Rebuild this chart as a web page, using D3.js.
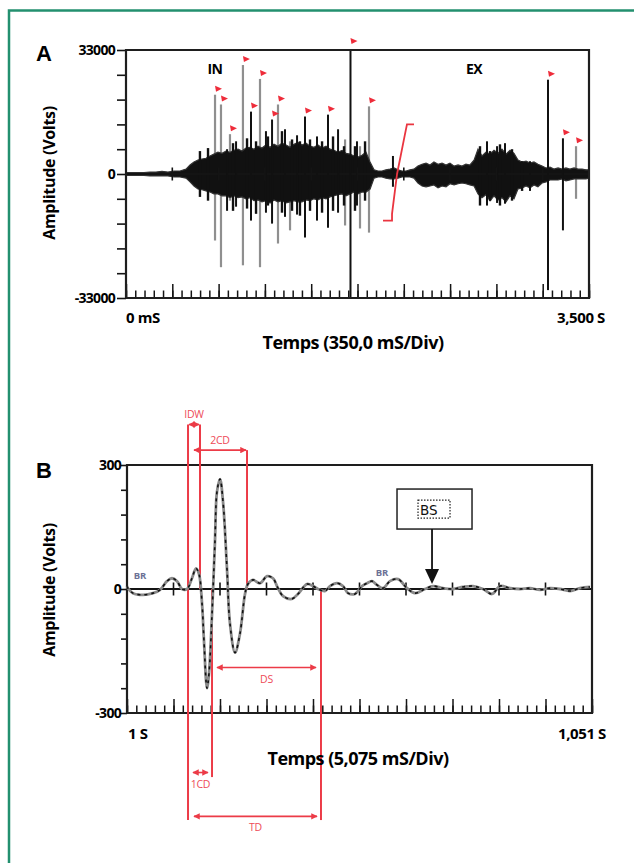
<!DOCTYPE html>
<html><head><meta charset="utf-8">
<script src="https://cdn.jsdelivr.net/npm/d3@7"></script>
<style>body{margin:0;background:#fff}svg{display:block}</style>
</head><body><svg id="c" width="634" height="863"></svg>
<script>
// ---------------- Panel A data (ms, volts) ----------------
const envTime = [0,45,91,136,181,227,272,317,363,408,454,484,514,544,575,605,635,665,695,726,756,786,816,847,877,907,937,968,998,1028,1058,1089,1119,1149,1179,1210,1240,1270,1300,1330,1361,1391,1421,1451,1482,1512,1542,1572,1603,1633,1663,1693,1724,1754,1784,1814,1845,1875,1905,1935,1965,1996,2026,2056,2086,2117,2147,2177,2207,2238,2268,2298,2328,2359,2389,2419,2449,2480,2510,2540,2570,2600,2631,2661,2691,2721,2752,2782,2812,2842,2873,2903,2933,2963,2994,3024,3054,3084,3114,3145,3175,3205,3235,3266,3296,3326,3356,3387,3417,3447,3477,3500];
const envUpper = [400,400,400,400,500,500,700,500,800,800,1300,2400,3200,3700,4000,4200,4800,5300,5800,5500,6100,5800,6300,6600,6100,6900,7100,6600,7400,6900,7700,7100,7900,7400,8200,7700,7100,7900,8400,7700,8200,7400,7100,7700,6900,7400,6600,6300,5800,6300,5500,5300,4800,4500,5000,5800,3200,1100,800,800,1100,1300,1600,1100,800,800,1100,1300,2100,2600,2900,2400,3200,2600,2900,2400,2900,2100,2400,2100,2600,2400,3700,6600,4800,5800,5300,6300,5500,6600,5300,6300,5500,3700,3200,3400,2900,3200,2600,2100,1600,1800,1300,1600,1300,1600,1300,1600,1300,1300,1100,1100];
const envLower = [-400,-400,-400,-400,-500,-500,-500,-500,-800,-800,-1100,-2100,-3200,-4000,-4200,-4500,-4800,-5300,-5300,-5800,-5800,-6300,-5800,-6300,-6100,-6600,-6300,-7100,-6900,-7400,-7100,-7700,-6900,-7400,-7100,-7700,-7400,-7100,-7400,-7400,-6900,-7100,-6600,-6900,-6300,-6600,-6100,-5800,-5500,-5300,-5800,-5300,-4800,-5300,-4800,-4800,-4000,-1100,-800,-800,-1100,-1300,-1300,-1100,-800,-800,-800,-1100,-2400,-3200,-3400,-3200,-2900,-3700,-3200,-3400,-2600,-2900,-2600,-2400,-2600,-2900,-3200,-5300,-6300,-5500,-7100,-5800,-6900,-6300,-7400,-5800,-6600,-4000,-3700,-3200,-3700,-2900,-3400,-2400,-2100,-1600,-1600,-1600,-1300,-1800,-1600,-1300,-1300,-1300,-1300,-1100];

// large discharges: time (ms), max, min (volts), trace (1 = grey trace, 2 = black trace), flagged peak
const spikeTime  = [673,718,764,786,884,945,1013,1104,1149,1240,1353,1444,1527,1697,1769,1837,3190,3303,3402, 832,1058,1202,1293,1603,1656,1746,2018,2729,2805,2865,3054];
const spikeMax   = [21100,18500,6600,10600,29000,16600,25300,14500,18500,8700,15300,10000,15800,33000,7400,18000,25100,9500,7400, 8700,11400,11900,10300,11900,9200,8700,4800,8700,7400,8200,3400];
const spikeMin   = [-17700,-24800,-9800,-7100,-24300,-12400,-24800,-13200,-18500,-15000,-16900,-12400,-14300,-33000,-14500,-15600,-30900,-15000,-6600, -8700,-10300,-11400,-10800,-10300,-13700,-8400,-3400,-8400,-7700,-7900,-4500];
const spikeTrace = [1,1,2,1,1,2,1,2,1,1,2,2,2,2,1,1,2,2,1, 2,2,2,2,2,1,2,2,2,2,2,2];
const spikeFlag  = [1,1,0,1,1,1,1,1,1,0,1,0,1,1,0,1,1,1,1, 0,0,0,0,0,0,0,0,0,0,0,0];
// smaller bursts poking out of the envelope (ms, max, min volts)
const burstTime = [559,620,809,915,983,1073,1179,1255,1315,1391,1482,1565,1648,1731,1807,2676,2752,2827,2918,2994];
const burstMax  = [6100,6900,8200,9500,8700,10000,11400,9200,8700,9200,8700,10000,7400,7400,8700,7400,6100,7900,6600,3400];
const burstMin  = [-6100,-7100,-9800,-9200,-10600,-8400,-10300,-9800,-11100,-9800,-10300,-9800,-8400,-9800,-7100,-8400,-7100,-8400,-7100,-4500];
// red integration bracket (ms, volts)
const bracketT = [2177,2124,2109,2049,2011,2011,1943];
const bracketV = [13200,13200,10600,0,-10600,-12400,-12400];
const yTicksA = [-33000,-26400,-19800,-13200,-6600,0,6600,13200,19800,26400,33000];
const yLabelsA = {"33000":"33000","0":"0","-33000":"-33000"};

// ---------------- Panel B data (ms, volts) ----------------
const wTime = [1000.0,1000.1,1000.65,1001.75,1002.84,1003.6,1004.37,1004.91,1005.46,1006.0,1006.55,1007.09,1007.53,1007.86,1008.19,1008.4,1008.73,1008.95,1009.28,1009.6,1009.82,1010.15,1010.48,1010.91,1011.24,1011.79,1012.33,1012.88,1013.2,1013.75,1014.52,1015.28,1015.93,1016.48,1017.03,1018.0,1018.66,1019.65,1020.3,1020.85,1021.6,1022.16,1022.92,1023.57,1024.12,1024.88,1025.65,1026.19,1026.74,1027.28,1027.94,1028.7,1029.58,1030.56,1031.43,1032.52,1033.4,1034.49,1035.58,1036.67,1037.76,1038.85,1039.84,1040.71,1041.8,1042.89,1043.98,1045.08,1046.17,1047.26,1048.35,1049.44,1050.53];
const wVolt = [7,2,-10,-14,-10,-2,19,26,19,0,0,26,50,36,-36,-125,-240,-204,-60,115,235,266,211,50,-84,-154,-108,-12,12,22,14,31,26,2,-17,-24,-12,12,7,0,-5,7,14,7,-10,-12,7,14,19,10,2,19,24,2,-10,0,7,2,0,5,7,0,-12,7,2,0,2,-2,2,0,-5,2,5];
const yTicksB = [-300,-240,-180,-120,-60,0,60,120,180,240,300];
const yLabelsB = {"300":"300","0":"0","-300":"-300"};
// annotation marker lines and spans (ms, volts)
const markT  = [1006.66,1007.97,1009.28,1013.1,1021.17];
const markV0 = [398,398,0,336,0];
const markV1 = [-559,0,-455,0,-559];
const spanLabel = ["IDW","2CD","DS","1CD","TD"];
const spanT0 = [1006.66,1007.2,1009.71,1007.09,1007.2];
const spanT1 = [1007.97,1013.1,1020.74,1008.95,1020.85];
const spanV  = [398,336,-190,-444,-550];
const spanAbove = [1,1,0,0,0];
const brLabelT = [1001.42,1027.83], brLabelV = [24,31];
const bsT = 1033.29, bsV = 12;

// ---------------- drawing ----------------
const svg = d3.select("#c");
svg.append("rect").attr("width",634).attr("height",863).attr("fill","#fff");
// green frame
svg.append("path").attr("d","M9,863 V10.5 H634").attr("fill","none").attr("stroke","#23906f").attr("stroke-width",2.5);

const FONT = "'Open Sans', 'DejaVu Sans', sans-serif";
const INK = "#141414";

function frame(g, x, y, yTicks, yLabels, tickLen, labelX, divMs){
  const [x0,x1] = x.range(), [yb,yt] = y.range();
  const y0 = y(0);
  const ax = d3.axisLeft(y).tickValues(yTicks).tickSize(tickLen).tickFormat(d => yLabels[String(d)] || "");
  const ga = g.append("g").attr("transform",`translate(${x0},0)`).call(ax);
  ga.select(".domain").remove();
  ga.selectAll(".tick line").attr("stroke",INK).attr("stroke-width",1.6);
  ga.selectAll(".tick text").attr("x",labelX - x0).attr("font-family",FONT).attr("font-weight","bold")
    .attr("font-size",14).attr("letter-spacing","-0.7").attr("fill","#000");
  const d0 = x.domain()[0];
  const minor = d3.range(0, 51).map(i => d0 + i*divMs/5);
  const major = d3.range(0, 11).map(i => d0 + i*divMs);
  const gm = g.append("g").attr("transform",`translate(0,${yb})`).call(d3.axisBottom(x).tickValues(minor).tickSize(-7.5).tickFormat(""));
  gm.select(".domain").remove();
  gm.selectAll(".tick line").attr("stroke",INK).attr("stroke-width",1.5);
  const gM = g.append("g").attr("transform",`translate(0,${yb})`).call(d3.axisBottom(x).tickValues(major).tickSize(-14).tickFormat(""));
  gM.select(".domain").remove();
  gM.selectAll(".tick line").attr("stroke",INK).attr("stroke-width",1.5);
  g.selectAll(null).data(major.slice(1,10)).join("line")
    .attr("x1",d=>x(d)).attr("x2",d=>x(d)).attr("y1",y0-6.5).attr("y2",y0+6.5)
    .attr("stroke",INK).attr("stroke-width",1.6);
  g.append("path").attr("d",`M${x0},${yb} V${yt} H${x1} V${yb} H${x0}`)
    .attr("fill","none").attr("stroke","#1e1e1e").attr("stroke-width",2.2);
}
function labelsText(g, txt, x, y, opts={}){
  return g.append("text").attr("x",x).attr("y",y).text(txt)
    .attr("font-family",opts.family||FONT).attr("font-weight",opts.weight||"bold")
    .attr("font-size",opts.size||14).attr("text-anchor",opts.anchor||"start")
    .attr("letter-spacing",opts.ls!=null?opts.ls:"-0.6").attr("fill",opts.fill||"#000");
}

// ===== Panel A =====
const xA = d3.scaleLinear().domain([0,3500]).range([126,589]);
const yA = d3.scaleLinear().domain([-33000,33000]).range([298,50]);
const gA = svg.append("g");
const env = envTime.map((t,i)=>({t, hi:envUpper[i], lo:envLower[i]}));
const spikes = spikeTime.map((t,i)=>({t, hi:spikeMax[i], lo:spikeMin[i], tr:spikeTrace[i], fl:spikeFlag[i]}));
const bursts = burstTime.map((t,i)=>({t, hi:burstMax[i], lo:burstMin[i]}));

gA.selectAll(".sg").data(spikes.filter(d=>d.tr===1)).join("line")
  .attr("x1",d=>xA(d.t)).attr("x2",d=>xA(d.t)).attr("y1",d=>yA(d.hi)).attr("y2",d=>yA(d.lo))
  .attr("stroke","#8f8f8f").attr("stroke-width",2.2);
const area = d3.area().x(d=>xA(d.t)).y0(d=>yA(d.lo)).y1(d=>yA(d.hi)).curve(d3.curveLinear);
gA.append("path").datum(env).attr("d",area).attr("fill","#111").attr("stroke","#333").attr("stroke-width",1.2);
gA.selectAll(".bu").data(bursts).join("line")
  .attr("x1",d=>xA(d.t)).attr("x2",d=>xA(d.t)).attr("y1",d=>yA(d.hi)).attr("y2",d=>yA(d.lo))
  .attr("stroke","#111").attr("stroke-width",2.4);
gA.append("line").attr("x1",xA(0)).attr("x2",xA(3500)).attr("y1",yA(0)).attr("y2",yA(0)).attr("stroke",INK).attr("stroke-width",2);
gA.selectAll(".sb").data(spikes.filter(d=>d.tr===2)).join("line")
  .attr("x1",d=>xA(d.t)).attr("x2",d=>xA(d.t)).attr("y1",d=>yA(d.hi)).attr("y2",d=>yA(d.lo))
  .attr("stroke","#111").attr("stroke-width",2);
frame(gA, xA, yA, yTicksA, yLabelsA, 9, 115, 350);
gA.selectAll(".fl").data(spikes.filter(d=>d.fl)).join("path")
  .attr("d",d=>{const x=xA(d.t), y=yA(d.hi) - (d.hi>=33000?3:0); return `M${x},${y-9} L${x+7},${y-6} L${x+1},${y-3} Z`;})
  .attr("fill","#ee2c3a");
gA.append("path").datum(bracketT.map((t,i)=>[xA(t),yA(bracketV[i])]))
  .attr("d",d3.line()).attr("fill","none").attr("stroke","#ea3540").attr("stroke-width",1.8);
labelsText(gA,"IN",215,74,{anchor:"middle",size:14,ls:"-0.5"});
labelsText(gA,"EX",474,74,{anchor:"middle",size:14,ls:"-0.5"});
labelsText(gA,"0 mS",126,323,{size:15,ls:"-0.4"});
labelsText(gA,"3,500 S",557,323,{size:15,ls:"-0.4"});
labelsText(gA,"Temps (350,0 mS/Div)",353,349,{anchor:"middle",size:18,ls:"-0.5"});
gA.append("text").attr("transform","translate(55,173) rotate(-90)").attr("text-anchor","middle")
  .attr("font-family",FONT).attr("font-weight","bold").attr("font-size",16).attr("letter-spacing","-0.3").text("Amplitude (Volts)");
svg.append("text").attr("x",36).attr("y",61).text("A").attr("font-family","'Liberation Sans', Arial, sans-serif").attr("font-weight","bold").attr("font-size",22);

// ===== Panel B =====
const xB = d3.scaleLinear().domain([1000,1050.75]).range([127,592]);
const yB = d3.scaleLinear().domain([-300,300]).range([713,465]);
const gB = svg.append("g");
gB.append("line").attr("x1",xB(1000)).attr("x2",xB(1050.75)).attr("y1",yB(0)).attr("y2",yB(0)).attr("stroke",INK).attr("stroke-width",2);
frame(gB, xB, yB, yTicksB, yLabelsB, 6, 121, 5.075);
const RED = "#ec3b47";
gB.selectAll(".mk").data(markT.map((t,i)=>({t,v0:markV0[i],v1:markV1[i]}))).join("line")
  .attr("x1",d=>xB(d.t)).attr("x2",d=>xB(d.t)).attr("y1",d=>yB(d.v0)).attr("y2",d=>yB(d.v1))
  .attr("stroke",RED).attr("stroke-width",2);
const defs = svg.append("defs");
defs.append("marker").attr("id","ah").attr("viewBox","0 0 10 10").attr("refX",9).attr("refY",5)
  .attr("markerWidth",4).attr("markerHeight",4).attr("orient","auto-start-reverse")
  .append("path").attr("d","M0,0 L10,5 L0,10 Z").attr("fill",RED);
const spans = spanLabel.map((l,i)=>({l,t0:spanT0[i],t1:spanT1[i],v:spanV[i],above:spanAbove[i]}));
gB.selectAll(".sp").data(spans).join("line")
  .attr("x1",d=>xB(d.t0)+1).attr("x2",d=>xB(d.t1)-1).attr("y1",d=>yB(d.v)).attr("y2",d=>yB(d.v))
  .attr("stroke",RED).attr("stroke-width",1.6).attr("marker-start","url(#ah)").attr("marker-end","url(#ah)");
gB.selectAll(".spl").data(spans).join("text")
  .attr("x",d=>(xB(d.t0)+xB(d.t1))/2).attr("y",d=>yB(d.v)+(d.above? -6 : 15))
  .attr("text-anchor","middle").attr("font-family",FONT).attr("font-size",10.5).attr("fill","#ee4a57")
  .attr("letter-spacing","-0.3").text(d=>d.l);
const wave = wTime.map((t,i)=>[xB(t),yB(wVolt[i])]);
const wl = d3.line().curve(d3.curveCatmullRom.alpha(0.5));
gB.append("path").attr("d",wl(wave)).attr("fill","none").attr("stroke","#8a8a8a").attr("stroke-width",2.8);
gB.append("path").attr("d",wl(wave)).attr("fill","none").attr("stroke","#111").attr("stroke-width",1.6).attr("stroke-dasharray","3,4");
gB.selectAll(".br").data(brLabelT.map((t,i)=>({t,v:brLabelV[i]}))).join("text")
  .attr("x",d=>xB(d.t)).attr("y",d=>yB(d.v)).attr("text-anchor","middle")
  .attr("font-family",FONT).attr("font-weight","bold").attr("font-size",9.5).attr("fill","#6c7196").text("BR");
const bx = xB(bsT), by = yB(bsV);
gB.append("rect").attr("x",bx-35).attr("y",by-95).attr("width",75).attr("height",40).attr("fill","#fff").attr("stroke","#222").attr("stroke-width",1.5);
gB.append("rect").attr("x",bx-14).attr("y",by-84).attr("width",32).attr("height",18).attr("fill","none").attr("stroke","#222").attr("stroke-width",1.2).attr("stroke-dasharray","1.5,1.5");
gB.append("text").attr("x",bx-12).attr("y",by-69).text("BS").attr("font-family","'DejaVu Sans', sans-serif").attr("font-size",13.5).attr("fill","#111");
gB.append("line").attr("x1",bx).attr("x2",bx).attr("y1",by-55).attr("y2",by-14).attr("stroke","#111").attr("stroke-width",1.8);
gB.append("path").attr("d",`M${bx-7},${by-15} L${bx+7},${by-15} L${bx},${by} Z`).attr("fill","#111");
labelsText(gB,"1 S",128,739,{size:15,ls:"-0.4"});
labelsText(gB,"1,051 S",558,739,{size:15,ls:"-0.4"});
labelsText(gB,"Temps (5,075 mS/Div)",358,765,{anchor:"middle",size:18,ls:"-0.5"});
gB.append("text").attr("transform","translate(55,590) rotate(-90)").attr("text-anchor","middle")
  .attr("font-family",FONT).attr("font-weight","bold").attr("font-size",16).attr("letter-spacing","-0.3").text("Amplitude (Volts)");
svg.append("text").attr("x",36).attr("y",478).text("B").attr("font-family","'Liberation Sans', Arial, sans-serif").attr("font-weight","bold").attr("font-size",22);
</script></body></html>
